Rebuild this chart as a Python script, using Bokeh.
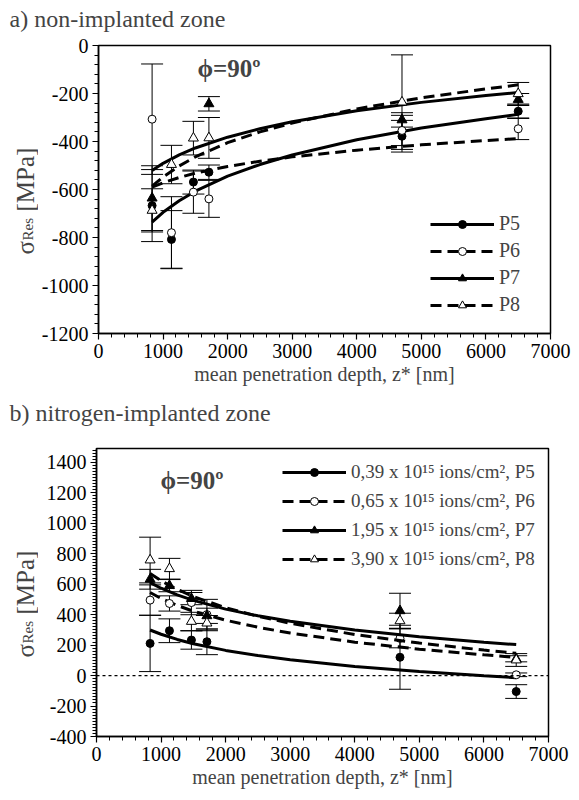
import numpy as np
from bokeh.plotting import figure
from bokeh.layouts import column, row
from bokeh.models import (ColumnDataSource, Whisker, TeeHead, Label, Legend, LegendItem,
                          SingleIntervalTicker, Range1d, Span, PrintfTickFormatter)
from bokeh.embed import file_html
from bokeh.resources import INLINE

NA = float("nan")

# ---------------- data ----------------
DEPTH = [830, 1130, 1470, 1710, 4700, 6500]

# a) non-implanted zone
A_P5 = [-667, -808, -569, -528, -378, -274]
A_P6 = [-307, -780, -611, -639, -354, -347]
A_P7 = [-636, NA, NA, -243, -310, -225]
A_P8 = [-687, -496, -386, -385, -236, -201]
A_E5 = [150, 120, 50, 30, 66, 30]
A_E6 = [230, 150, 88, 77, 63, 45]
A_E7 = [135, NA, NA, 30, 30, 25]
A_E8 = [90, 80, 70, 85, 197, 47]

# b) nitrogen-implanted zone
B_P5 = [211, 294, 233, 222, 120, -105]
B_P6 = [495, 473, 479, 400, 244, 5]
B_P7 = [632, 590, 505, 392, 425, 110]
B_P8 = [758, 701, 355, 344, 359, 102]
B_E5 = [185, 78, 60, 85, 210, 45]
B_E6 = [100, 50, 80, 100, 62, 12]
B_E7 = [65, 40, 40, 50, 115, 20]
B_E8 = [150, 68, 60, 50, 50, 42]

# fitted curves
FIT_X = [830, 1000, 1250, 1500, 2000, 2500, 3000, 4000, 5000, 6000, 6500]
A_F5 = [-736, -695, -647, -607, -544, -496, -456, -393, -344, -305, -287]
A_F6 = [-590, -572, -550, -532, -504, -482, -464, -436, -414, -396, -388]
A_F7 = [-521, -491, -456, -427, -382, -347, -318, -272, -237, -208, -196]
A_F8 = [-586, -548, -502, -464, -405, -360, -323, -264, -218, -181, -164]
B_F5 = [299, 271, 237, 209, 165, 131, 104, 60, 26, -2, -14]
B_F6 = [545, 506, 460, 422, 363, 317, 279, 219, 173, 136, 119]
B_F7 = [610, 573, 529, 493, 436, 392, 356, 299, 254, 218, 203]
B_F8 = [669, 622, 565, 518, 445, 389, 343, 269, 213, 167, 146]

A_LABELS = ["P5", "P6", "P7", "P8"]
B_LABELS = ["0,39 x 10\u00b9\u2075 ions/cm\u00b2, P5",
            "0,65 x 10\u00b9\u2075 ions/cm\u00b2, P6",
            "1,95 x 10\u00b9\u2075 ions/cm\u00b2, P7",
            "3,90 x 10\u00b9\u2075 ions/cm\u00b2, P8"]
TITLES = ["a) non-implanted zone", "b) nitrogen-implanted zone"]

FONT = "Liberation Serif"
MARKERS = ["circle", "circle", "triangle", "triangle"]
FILLS = ["black", "white", "black", "white"]
DASHES = ["solid", "11 6", "solid", "11 6"]
SIZES = [8, 8, 10, 10]


def blank(w, h):
    f = figure(output_backend="svg", toolbar_location=None, title=None,
               frame_width=w, frame_height=h, min_border=0,
               x_axis_type=None, y_axis_type=None,
               x_range=Range1d(0, 1), y_range=Range1d(0, 1))
    f.xgrid.visible = False
    f.ygrid.visible = False
    f.outline_line_color = None
    f.background_fill_color = "white"
    f.border_fill_color = "white"
    return f


def title_fig(text, h, yc):
    f = blank(579, h)
    f.add_layout(Label(x=9, y=yc, x_units="screen", y_units="screen", text=text,
                       text_font=FONT, text_font_size="24px",
                       text_baseline="middle", text_align="left"))
    return f


def ylabel_fig(h, start):
    f = blank(38, h)
    f.add_layout(Label(x=25, y=start, x_units="screen", y_units="screen", angle=np.pi / 2,
                       text="\u03c3", text_font=FONT, text_font_size="25px",
                       text_baseline="middle", text_align="left"))
    f.add_layout(Label(x=27, y=start + 14, x_units="screen", y_units="screen", angle=np.pi / 2,
                       text="Res", text_font=FONT, text_font_size="15px",
                       text_baseline="middle", text_align="left"))
    f.add_layout(Label(x=25, y=start + 43, x_units="screen", y_units="screen", angle=np.pi / 2,
                       text="[MPa]", text_font=FONT, text_font_size="25px",
                       text_baseline="middle", text_align="left"))
    return f


def make_panel(vals, errs, fits, labels, y0, y1, minor_y, legend_loc,
               legend_spacing, legend_font, border_bottom, phi_xy, zero_line):
    p = figure(output_backend="svg", toolbar_location=None, title=None,
               frame_width=452, frame_height=288,
               min_border_left=58, min_border_right=31,
               min_border_top=12, min_border_bottom=border_bottom,
               x_range=Range1d(0, 7000), y_range=Range1d(y0, y1))
    p.xgrid.visible = False
    p.ygrid.visible = False
    p.outline_line_color = "black"
    p.outline_line_width = 1.5
    p.background_fill_color = "white"
    p.border_fill_color = "white"

    p.xaxis.ticker = SingleIntervalTicker(interval=1000, num_minor_ticks=5)
    p.yaxis.ticker = SingleIntervalTicker(interval=200, num_minor_ticks=minor_y)
    p.yaxis.formatter = PrintfTickFormatter(format="%d")
    p.xaxis.formatter = PrintfTickFormatter(format="%d")
    for ax in (p.xaxis, p.yaxis):
        ax.axis_line_width = 1.5
        ax.axis_line_color = "black"
        ax.major_tick_in = 0
        ax.major_tick_out = 6
        ax.minor_tick_in = 0
        ax.minor_tick_out = 4
        ax.major_tick_line_width = 1.2
        ax.minor_tick_line_width = 1
        ax.major_label_text_font = FONT
        ax.major_label_text_font_size = "20px"
        ax.major_label_text_color = "black"
        ax.major_label_standoff = 4
    p.xaxis.axis_label = "mean penetration depth, z* [nm]"
    p.xaxis.axis_label_text_font = FONT
    p.xaxis.axis_label_text_font_size = "20px"
    p.xaxis.axis_label_text_font_style = "normal"
    p.xaxis.axis_label_standoff = 2

    if zero_line:
        p.add_layout(Span(location=0, dimension="width", line_color="black",
                          line_width=1.3, line_dash="3 3"))

    items = []
    for i in range(4):
        v = np.array(vals[i], dtype=float)
        e = np.array(errs[i], dtype=float)
        ok = ~np.isnan(v)
        src = ColumnDataSource(dict(x=np.array(DEPTH)[ok], up=(v + e)[ok], lo=(v - e)[ok]))
        p.add_layout(Whisker(source=src, base="x", upper="up", lower="lo",
                             dimension="height", line_color="black", line_width=1,
                             upper_head=TeeHead(size=22, line_color="black", line_width=1),
                             lower_head=TeeHead(size=22, line_color="black", line_width=1)))
    for i in range(4):
        v = np.array(vals[i], dtype=float)
        ok = ~np.isnan(v)
        lr = p.line(FIT_X, fits[i], line_color="black", line_width=3,
                    line_dash=DASHES[i])
        sr = p.scatter(np.array(DEPTH)[ok], v[ok], marker=MARKERS[i], size=SIZES[i],
                       fill_color=FILLS[i], line_color="black", line_width=1)
        items.append(LegendItem(label=labels[i], renderers=[lr, sr]))

    leg = Legend(items=items, location=legend_loc, padding=0, margin=0,
                 spacing=legend_spacing, glyph_width=64, glyph_height=20,
                 label_height=20, label_standoff=5,
                 label_text_font=FONT, label_text_font_size=legend_font,
                 border_line_alpha=0, background_fill_alpha=0)
    p.add_layout(leg)

    p.add_layout(Label(x=phi_xy[0], y=phi_xy[1], x_units="screen", y_units="screen",
                       text="\u03d5=90\u00ba", text_font=FONT, text_font_style="bold",
                       text_font_size="25px", text_baseline="middle", text_align="left"))
    return p


pa = make_panel([A_P5, A_P6, A_P7, A_P8], [A_E5, A_E6, A_E7, A_E8],
                [A_F5, A_F6, A_F7, A_F8], A_LABELS, -1200, 0, 5,
                (332, 17), 4, "20px", 60, (99, 265), False)
pb = make_panel([B_P5, B_P6, B_P7, B_P8], [B_E5, B_E6, B_E7, B_E8],
                [B_F5, B_F6, B_F7, B_F8], B_LABELS, -400, 1490, 10,
                (186, 166), 7, "19px", 56, (64, 256), True)

ta = title_fig(TITLES[0], 33, 15)
tb = title_fig(TITLES[1], 43, 24)
la = ylabel_fig(360, 151)
lb = ylabel_fig(356, 147)

layout = column(ta, row(la, pa, spacing=0), tb, row(lb, pb, spacing=0), spacing=0)
open("out.html", "w").write(file_html(layout, INLINE))
